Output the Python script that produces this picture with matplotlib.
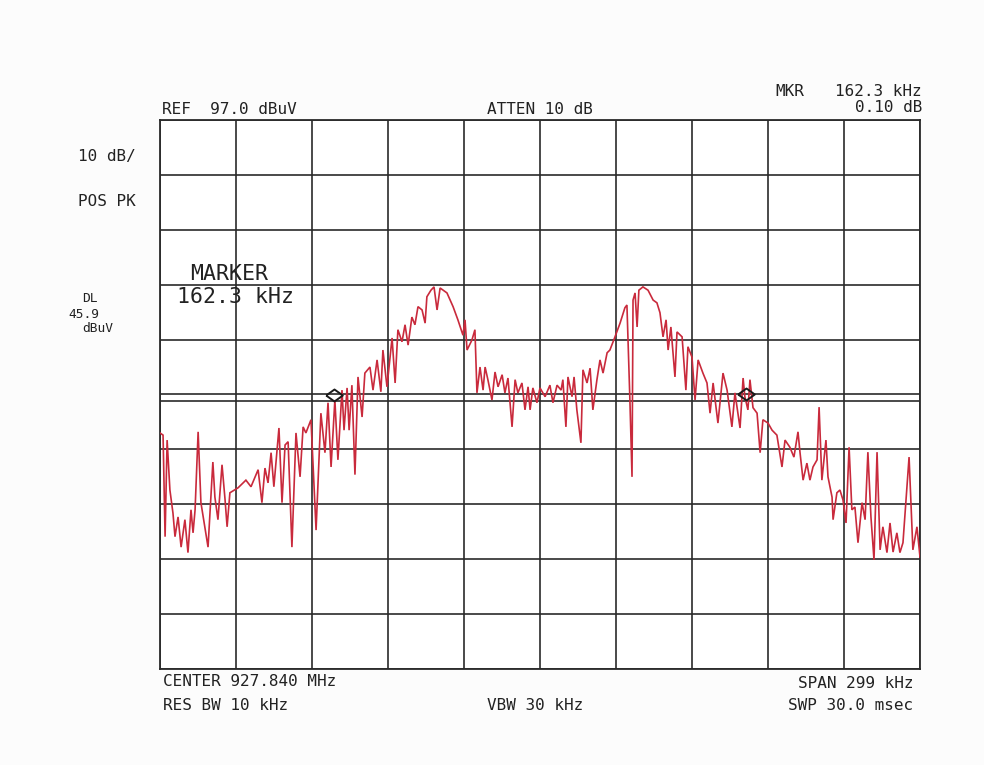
import matplotlib
matplotlib.use("Agg")
import matplotlib.pyplot as plt

# ---- data (frequency offset from center, kHz ; level, dBuV) ----
freq_khz = [-149.5, -148.3, -147.5, -146.7, -145.6, -144.4, -143.6, -142.4, -141.2, -139.7,
            -138.5, -137.3, -136.5, -135.7, -134.5, -133.4, -130.6, -128.7, -127.9, -126.7,
            -125.1, -123.9, -123.1, -122.0, -118.8, -115.7, -113.7, -110.9, -109.4, -108.2,
            -107.0, -105.8, -104.7, -102.7, -101.5, -100.3, -99.1, -97.6, -96.0, -94.4,
            -93.2, -92.1, -90.1, -88.1, -86.2, -84.6, -83.4, -82.2, -80.7, -79.5,
            -77.9, -77.1, -75.9, -75.1, -74.0, -72.8, -71.6, -70.0, -68.9, -66.9,
            -65.7, -64.1, -62.6, -61.8, -60.2, -58.2, -57.0, -55.9, -54.3, -53.1,
            -51.9, -50.4, -49.2, -48.0, -46.4, -45.2, -44.5, -42.9, -41.7, -40.5,
            -39.3, -36.6, -34.2, -32.3, -30.3, -29.5, -28.7, -26.8, -25.6, -24.8,
            -23.6, -22.4, -21.6, -20.5, -18.9, -17.7, -16.5, -14.9, -13.8, -12.6,
            -11.0, -9.8, -8.7, -7.1, -5.9,
            -4.7, -3.9, -2.8, -1.2, 0.0, 2.0, 3.9, 5.1, 6.7, 8.3,
            9.0, 10.2, 11.0, 12.6, 13.4, 14.5, 16.1, 16.9, 18.5, 19.7,
            20.8, 22.4, 23.6, 24.8, 26.4, 27.5, 29.5, 31.5, 33.4, 34.2,
            35.4, 36.2, 36.6, 37.4, 38.2, 38.9, 40.5, 42.5, 44.5, 46.0,
            47.2, 48.4, 49.6, 50.4, 51.5, 53.1, 53.9, 55.9, 57.4, 58.2,
            59.8, 61.0, 62.2, 64.1,
            65.7, 66.9, 68.1, 70.0, 72.0, 73.6, 75.5, 76.7, 78.7, 79.9,
            80.6, 81.8, 82.6, 83.8, 85.4, 86.6, 87.7, 89.7, 91.3, 93.2,
            95.2, 96.4, 98.3, 99.9, 101.5, 102.3, 103.5, 105.0, 106.2, 107.4,
            109.0, 109.8, 110.9, 112.5, 113.3, 114.9, 115.3, 116.8, 118.0, 119.2,
            120.4, 121.6, 122.7, 123.9, 125.1, 126.7, 127.9, 129.0, 130.2, 131.4,
            132.6, 133.8, 134.9, 136.5, 137.7, 138.9, 140.4, 141.6, 142.8, 145.2,
            146.7, 148.3, 149.5]

level_dbuv = [40.0, 39.6, 21.1, 38.7, 29.6, 25.4, 21.1, 24.7, 19.2, 24.2,
              18.2, 26.0, 21.8, 26.0, 40.2, 27.3, 19.2, 34.7, 28.3, 24.2,
              34.2, 27.8, 22.9, 29.1, 30.0, 31.4, 30.2, 33.3, 27.3, 33.6,
              30.9, 36.4, 30.2, 40.9, 27.3, 37.8, 38.4, 19.2, 40.0, 32.0,
              41.1, 40.0, 42.4, 22.3, 43.6, 36.4, 45.5, 33.8, 46.0, 35.1,
              47.8, 40.5, 48.2, 40.5, 48.7, 32.4, 50.2, 42.9, 50.9, 52.0,
              47.8, 53.3, 47.5, 55.1, 48.4, 57.3, 49.1, 58.8, 56.6, 59.7,
              56.0, 61.1, 59.7, 63.0, 62.4, 60.0, 64.8, 66.0, 66.6, 62.4,
              66.4, 65.5, 63.0, 60.6, 57.8, 60.6, 55.1, 56.9, 58.8, 47.3,
              52.0, 47.8, 52.0, 49.7, 46.0, 51.1, 48.4, 50.6, 47.3, 50.0,
              41.1, 49.7, 47.3, 49.1, 44.2,
              48.4, 44.2, 48.2, 45.5, 48.2, 46.6, 48.7, 45.5, 48.7, 47.8,
              49.7, 41.1, 50.2, 46.6, 50.2, 44.2, 38.2, 51.5, 49.1, 51.8,
              44.2, 49.7, 53.3, 50.9, 54.6, 55.1, 57.5, 60.0, 62.8, 63.3,
              45.5, 32.0, 64.2, 65.5, 59.3, 66.0, 66.6, 66.0, 64.2, 63.7,
              61.9, 57.5, 60.6, 55.1, 59.3, 50.2, 58.4, 57.5, 47.8, 55.7,
              53.8, 46.0, 53.3, 50.9,
              49.1, 43.6, 49.1, 41.8, 50.9, 47.8, 41.1, 47.3, 40.9, 50.0,
              46.6, 44.2, 49.7, 44.6, 43.6, 36.4, 42.4, 41.8, 40.5, 39.6,
              33.8, 38.7, 37.4, 35.6, 40.2, 36.4, 31.4, 34.5, 31.4, 33.8,
              35.1, 44.7, 31.4, 38.7, 32.0, 28.3, 24.2, 29.1, 29.6, 27.8,
              23.6, 37.4, 26.0, 26.5, 20.0, 27.3, 24.2, 36.5, 24.7, 16.9,
              36.5, 18.7, 22.9, 18.2, 23.6, 18.3, 21.8, 18.2, 20.0, 35.6,
              18.7, 22.9, 17.4]

marker_freq = [-81.2, 81.1]
marker_level = [46.9, 47.0]

ref_level = 97.0
db_per_div = 10
display_line = 45.9
span_khz = 299.0

# ---- figure ----
fig = plt.figure(figsize=(9.84, 7.65), dpi=100, facecolor="#fcfcfc")
ax = fig.add_axes([160 / 984, 1 - 669 / 765, 760 / 984, 549 / 765])
ax.set_facecolor("white")
ax.set_xlim(-span_khz / 2, span_khz / 2)
ax.set_ylim(ref_level - 10 * db_per_div, ref_level)

xt = [-span_khz / 2 + i * span_khz / 10 for i in range(11)]
yt = [ref_level - i * db_per_div for i in range(11)]
for x in xt:
    ax.axvline(x, color="#2a2a2a", lw=1.2, zorder=1)
for y in yt:
    ax.axhline(y, color="#2a2a2a", lw=1.2, zorder=1)
ax.axhline(display_line, color="#2a2a2a", lw=1.2, zorder=1)
ax.set_xticks([])
ax.set_yticks([])
for s in ax.spines.values():
    s.set_color("#2a2a2a")
    s.set_linewidth(1.3)

ax.plot(freq_khz, level_dbuv, color="#c92a3c", lw=1.2, zorder=3, solid_joinstyle="miter")
diamond = [(-1.0, 0.0), (0.0, 0.72), (1.0, 0.0), (0.0, -0.72), (-1.0, 0.0)]
ax.plot(marker_freq, marker_level, linestyle="none", marker=diamond, markersize=12,
        markerfacecolor="none", markeredgecolor="#1a1a1a", markeredgewidth=1.4, zorder=4)

# ---- annotation text ----
mono = "DejaVu Sans Mono"
fs = 11.5
tc = "#222222"
def put(x, y, s, ha="left", size=fs):
    fig.text(x / 984, 1 - y / 765, s, ha=ha, va="center", fontsize=size,
             family=mono, color=tc)

put(162, 109, "REF  97.0 dBuV")
put(487, 109, "ATTEN 10 dB")
put(775, 92, "MKR")
put(922, 92, "162.3 kHz", ha="right")
put(922, 108, "0.10 dB", ha="right")
put(78, 156, "10 dB/")
put(78, 201, "POS PK")
put(82, 299, "DL", size=9.3)
put(68, 314, "45.9", size=9.3)
put(82, 329, "dBuV", size=9.3)
put(190, 274, "MARKER", size=15.5)
put(177, 297, "162.3 kHz", size=15.5)
put(163, 682, "CENTER 927.840 MHz")
put(163, 705, "RES BW 10 kHz")
put(487, 705, "VBW 30 kHz")
put(913, 683, "SPAN 299 kHz", ha="right")
put(913, 706, "SWP 30.0 msec", ha="right")

fig.savefig("out.png", dpi=100, facecolor=fig.get_facecolor())
